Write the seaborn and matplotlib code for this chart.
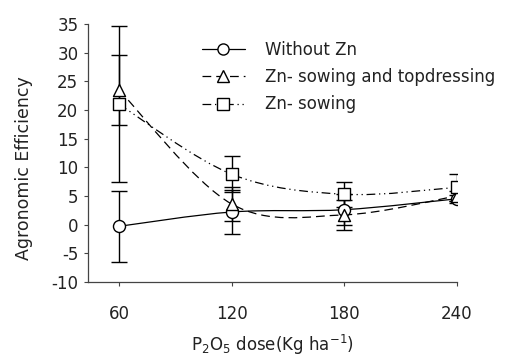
import numpy as np
import pandas as pd
import matplotlib
matplotlib.use("Agg")
import matplotlib.pyplot as plt
import seaborn as sns
from matplotlib.path import Path
from matplotlib.patches import PathPatch
from matplotlib.lines import Line2D

# data
doses = [60, 120, 180, 240]
without_zn = [-0.3, 2.2, 2.6, 4.5]
without_zn_err = [6.2, 3.8, 2.7, 0.7]
sow_top = [23.5, 3.6, 1.7, 5.0]
sow_top_err = [6.1, 3.0, 2.6, 0.8]
sowing = [21.0, 8.8, 5.3, 6.5]
sowing_err = [13.6, 3.1, 2.2, 2.3]
series_names = ["Without Zn", "Zn- sowing and topdressing", "Zn- sowing"]

sns.set_style("ticks")
plt.rcParams['font.family'] = ['DejaVu Sans']
plt.rcParams['axes.unicode_minus'] = False

fig = plt.figure(figsize=(5.15, 3.6), dpi=100)
ax = fig.add_axes([0.171, 0.217, 0.716, 0.716])


def smooth_path(x, y):
    # Excel-like smoothed line: Catmull-Rom segments as cubic Bezier
    pts = np.column_stack([x, y]).astype(float)
    verts = [pts[0]]
    codes = [Path.MOVETO]
    n = len(pts)
    for i in range(n - 1):
        p0 = pts[i - 1] if i > 0 else pts[i]
        p1 = pts[i]
        p2 = pts[i + 1]
        p3 = pts[i + 2] if i + 2 < n else pts[i + 1]
        c1 = p1 + (p2 - p0) / 6.0
        c2 = p2 - (p3 - p1) / 6.0
        verts += [c1, c2, p2]
        codes += [Path.CURVE4] * 3
    return Path(verts, codes)


styles = [
    ("o", "-"),
    ("^", (0, (7, 4))),
    ("s", (0, (7, 3, 1, 3, 1, 3))),
]
values = [without_zn, sow_top, sowing]
errors = [without_zn_err, sow_top_err, sowing_err]

handles = []
for name, vals, errs, (mk, ls) in zip(series_names, values, errors, styles):
    ax.errorbar(doses, vals, yerr=errs, fmt="none", ecolor="black",
                elinewidth=1.0, capsize=6, capthick=1.0, zorder=2)
    ax.add_patch(PathPatch(smooth_path(doses, vals), facecolor="none",
                           edgecolor="black", lw=0.9, linestyle=ls, zorder=3))
    df = pd.DataFrame({"dose": doses, "val": vals})
    sns.scatterplot(data=df, x="dose", y="val", marker=mk, s=75,
                    color="white", edgecolor="black", linewidth=1.0,
                    zorder=4, ax=ax)
    handles.append(Line2D([0], [0], color="black", lw=0.9, linestyle=ls,
                          marker=mk, markersize=8, markerfacecolor="white",
                          markeredgecolor="black", markeredgewidth=1.0))

ax.set_xlim(43.5, 240)
ax.set_ylim(-10, 35)
ax.set_xticks(doses)
ax.set_yticks(np.arange(-10, 36, 5))
ax.tick_params(axis="both", labelsize=12, length=3, width=0.8, color="#444444",
               labelcolor="#222222")
ax.tick_params(axis="x", pad=14)
ax.tick_params(axis="y", pad=4)
for side in ["top", "right"]:
    ax.spines[side].set_visible(False)
for side in ["left", "bottom"]:
    ax.spines[side].set_color("#444444")
    ax.spines[side].set_linewidth(0.9)

ax.set_ylabel("Agronomic Efficiency", fontsize=12.5, labelpad=10, color="#222222")
ax.yaxis.set_label_coords(-0.15, 0.44)
ax.set_xlabel("P$_2$O$_5$ dose(Kg ha$^{-1}$)", fontsize=12, labelpad=7,
              color="#222222")

ax.legend(handles, series_names, loc="upper left", bbox_to_anchor=(0.29, 0.96),
          frameon=False, fontsize=12, handlelength=2.6, handletextpad=1.2,
          labelspacing=0.55, borderaxespad=0, labelcolor="#222222")

fig.savefig("out.png", dpi=100)
